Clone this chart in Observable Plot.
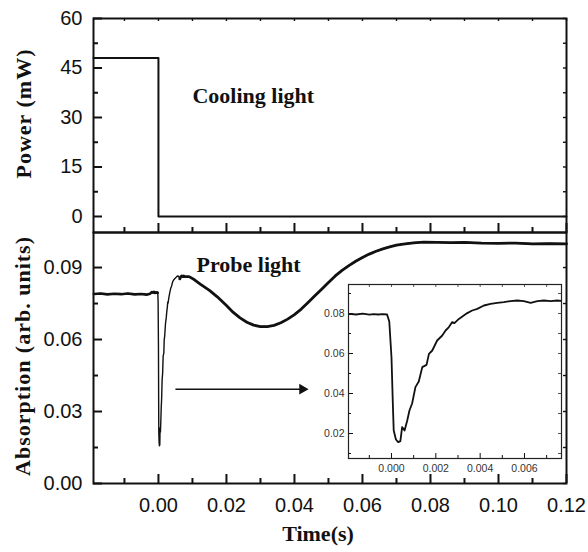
<!DOCTYPE html>
<html><head><meta charset="utf-8">
<script src="https://cdn.jsdelivr.net/npm/d3@7"></script>
<script src="https://cdn.jsdelivr.net/npm/@observablehq/plot@0.6"></script>
<style>
body{margin:0;background:#fff;}
#wrap{position:relative;width:588px;height:552px;background:#fff;overflow:hidden;}
#wrap svg{position:absolute;}
</style></head><body><div id="wrap"></div>
<script>
// ---- data ----
const powerTime = [-0.0191, 0, 0, 0.12];
const powerValue = [48, 48, 0, 0];

const absTime = [
 -0.0190,-0.0170,-0.0150,-0.0130,-0.0110,-0.0090,-0.0070,-0.0050,-0.0035,-0.0025,
 -0.0019,-0.0016,-0.0013,-0.0010,-0.0008,-0.0006,-0.0004,-0.0002,-0.0001,0.0000,
 0.00006,0.0001,0.0002,0.0003,0.0004,0.00048,0.00059,0.00071,0.00081,0.00093,
 0.00108,0.00123,0.00139,0.00158,0.00169,0.00184,0.00206,0.00229,0.00244,0.00259,
 0.00274,0.00284,0.00304,0.00326,0.00342,0.00364,0.00387,0.00417,0.00447,0.00477,
 0.00507,0.00537,0.00568,0.00597,0.00628,0.00658,0.00688,0.00718,0.00748,0.0077,
 0.0090,0.0105,0.0124,0.0150,0.0173,0.0200,0.0220,0.0240,0.0260,0.0280,
 0.0300,0.0320,0.0340,0.0360,0.0380,0.0400,0.0420,0.0440,0.0460,0.0480,
 0.0500,0.0520,0.0540,0.0560,0.0580,0.0600,0.0620,0.0640,0.0660,0.0680,
 0.0700,0.0720,0.0750,0.0780,0.0820,0.0860,0.0900,0.0950,0.1000,0.1050,
 0.1100,0.1150,0.1200];
const absValue = [
 0.0790,0.0792,0.0788,0.0791,0.0789,0.0792,0.0788,0.0790,0.0787,0.0791,
 0.0798,0.0795,0.0799,0.0794,0.0797,0.0795,0.0797,0.0795,0.0760,0.0580,
 0.0350,0.0215,0.0170,0.0157,0.0162,0.0232,0.0215,0.0265,0.0315,0.0350,
 0.0432,0.0460,0.0532,0.0543,0.0598,0.0615,0.0665,0.0690,0.0715,0.0732,
 0.0757,0.0752,0.0773,0.0790,0.0802,0.0815,0.0823,0.0840,0.0848,0.0853,
 0.0857,0.0862,0.0865,0.0862,0.0853,0.0862,0.0865,0.0862,0.0865,0.0862,
 0.0862,0.0850,0.0830,0.0805,0.0778,0.0742,0.0713,0.0690,0.0672,0.0660,
 0.0654,0.0654,0.0659,0.0670,0.0685,0.0704,0.0727,0.0754,0.0782,0.0810,
 0.0838,0.0865,0.0888,0.0908,0.0926,0.0942,0.0956,0.0968,0.0978,0.0986,
 0.0993,0.0998,0.1003,0.1006,0.1005,0.1004,0.1005,0.1002,0.1001,0.1002,
 0.0999,0.1000,0.0999];

const arrowStart = [0.005, 0.0393];
const arrowEnd = [0.0432, 0.0393];

const xMajor = [0, 0.02, 0.04, 0.06, 0.08, 0.10, 0.12];
const xMinor = [-0.01, 0.01, 0.03, 0.05, 0.07, 0.09, 0.11];
const powerMajor = [0, 15, 30, 45, 60];
const powerMinor = [7.5, 22.5, 37.5, 52.5];
const absMajor = [0, 0.03, 0.06, 0.09];
const absMinor = [0.015, 0.045, 0.075];
const insetXMajor = [0, 0.002, 0.004, 0.006];
const insetXMinor = [-0.001, 0.001, 0.003, 0.005, 0.007];
const insetYMajor = [0.02, 0.04, 0.06, 0.08];
const insetYMinor = [0.01, 0.03, 0.05, 0.07, 0.09];

// ---- helpers ----
const INK = "#111";
const powerData = powerTime.map((t, i) => ({t, v: powerValue[i]}));
const absData = absTime.map((t, i) => ({t, v: absValue[i]}));

function ticks({xMaj, xMin, yMaj, yMin, fw, fh, majL, minL, mirL, top, sw}) {
  const m = [];
  const o = {stroke: INK, strokeWidth: sw};
  m.push(Plot.ruleX(xMaj, {...o, insetTop: fh - majL}));
  m.push(Plot.ruleX(xMin, {...o, insetTop: fh - minL}));
  if (top) m.push(Plot.ruleX(xMaj.concat(xMin), {...o, strokeWidth: sw * 0.7, insetBottom: fh - mirL}));
  m.push(Plot.ruleY(yMaj, {...o, insetRight: fw - majL}));
  m.push(Plot.ruleY(yMin, {...o, insetRight: fw - minL}));
  m.push(Plot.ruleY(yMaj.concat(yMin), {...o, strokeWidth: sw * 0.7, insetLeft: fw - mirL}));
  return m;
}

const W = 588, ML = 93, MR = 22;
const FW = W - ML - MR;
const serif = {fontFamily: "Liberation Serif, Times New Roman, serif", fontWeight: "bold", fontSize: 22, fill: INK};
const baseStyle = {fontFamily: "Liberation Sans, Arial, sans-serif", fontSize: "20px", color: INK, background: "transparent", overflow: "visible"};
const tickFont = {fontSize: 20, fontFamily: "Liberation Sans, Arial, sans-serif"};

// ---- top panel ----
const topPlot = Plot.plot({
  width: W, height: 232, marginTop: 18, marginBottom: 0, marginLeft: ML, marginRight: MR,
  style: baseStyle,
  x: {domain: [-0.0191, 0.12]},
  y: {domain: [-4.85, 60]},
  marks: [
    Plot.line(powerData, {x: "t", y: "v", stroke: INK, strokeWidth: 2}),
    ...ticks({xMaj: xMajor, xMin: xMinor, yMaj: powerMajor, yMin: powerMinor, fw: FW, fh: 214, majL: 9, minL: 5, mirL: 3, top: true, sw: 2}),
    Plot.axisX([], {label: null}),
    Plot.axisY(powerMajor, {tickSize: 0, tickPadding: 11, label: null, tickFormat: d => String(d), ...tickFont}),
    Plot.text(["Cooling light"], {x: 0.010, y: 36.4, text: d => d, textAnchor: "start", lineAnchor: "middle", ...serif}),
    Plot.text(["Power (mW)"], {frameAnchor: "left", dx: -70, dy: -12, rotate: -90, textAnchor: "middle", lineAnchor: "middle", text: d => d, ...serif}),
    Plot.frame({stroke: INK, strokeWidth: 2})
  ]
});
topPlot.style.left = "0px"; topPlot.style.top = "0px";

// ---- bottom panel ----
const botPlot = Plot.plot({
  width: W, height: 320, marginTop: 0, marginBottom: 69, marginLeft: ML, marginRight: MR,
  style: baseStyle,
  x: {domain: [-0.0191, 0.12]},
  y: {domain: [0, 0.1046]},
  marks: [
    Plot.line(absData, {x: "t", y: "v", stroke: INK, strokeWidth: 1.4}),
    Plot.line(absData.filter(d => d.t < -0.0001), {x: "t", y: "v", stroke: INK, strokeWidth: 2.6}),
    Plot.line(absData.filter(d => d.t > 0.006), {x: "t", y: "v", stroke: INK, strokeWidth: 2.8}),
    Plot.link([0], {x1: arrowStart[0], y1: arrowStart[1], x2: arrowEnd[0], y2: arrowEnd[1], stroke: INK, strokeWidth: 1.6}),
    Plot.dot([0], {x: arrowEnd[0], y: arrowEnd[1], symbol: "triangle", rotate: 90, r: 4, fill: INK, stroke: "none", dx: -3}),
    ...ticks({xMaj: xMajor, xMin: xMinor, yMaj: absMajor, yMin: absMinor, fw: FW, fh: 251, majL: 9, minL: 5, mirL: 3, top: false, sw: 2}),
    Plot.axisX(xMajor, {tickSize: 0, tickPadding: 14, label: null, tickFormat: d3.format(".2f"), ...tickFont}),
    Plot.axisY(absMajor, {tickSize: 0, tickPadding: 11, label: null, tickFormat: d3.format(".2f"), ...tickFont}),
    Plot.text(["Probe light"], {x: 0.0112, y: 0.0912, text: d => d, textAnchor: "start", lineAnchor: "middle", ...serif}),
    Plot.text(["Absorption (arb. units)"], {frameAnchor: "left", dx: -71, dy: -2, rotate: -90, textAnchor: "middle", lineAnchor: "middle", text: d => d, ...serif}),
    Plot.text(["Time(s)"], {frameAnchor: "bottom", dx: -12, dy: 50, textAnchor: "middle", lineAnchor: "middle", text: d => d, ...serif}),
    Plot.frame({stroke: INK, strokeWidth: 2})
  ]
});
botPlot.style.left = "0px"; botPlot.style.top = "232px";

// ---- inset ----
const IML = 32, IMT = 4, IMR = 4, IMB = 22;
const IFW = 213, IFH = 174;
const insetPlot = Plot.plot({
  width: IFW + IML + IMR, height: IFH + IMT + IMB,
  marginLeft: IML, marginTop: IMT, marginRight: IMR, marginBottom: IMB,
  style: {...baseStyle, fontSize: "10.5px", color: "#333"},
  x: {domain: [-0.00194, 0.00767]},
  y: {domain: [0.0075, 0.0945]},
  marks: [
    Plot.frame({fill: "white", stroke: "none"}),
    Plot.line(absData, {x: "t", y: "v", stroke: INK, strokeWidth: 1.8, clip: true}),
    ...ticks({xMaj: insetXMajor, xMin: insetXMinor, yMaj: insetYMajor, yMin: insetYMinor, fw: IFW, fh: IFH, majL: 5, minL: 3, mirL: 3, top: true, sw: 1}),
    Plot.axisX(insetXMajor, {tickSize: 0, tickPadding: 6, label: null, tickFormat: d3.format(".3f"), fontSize: 10.5}),
    Plot.axisY(insetYMajor, {tickSize: 0, tickPadding: 4, label: null, tickFormat: d3.format(".2f"), fontSize: 10.5}),
    Plot.frame({stroke: "#222", strokeWidth: 1.2})
  ]
});
insetPlot.style.left = (348 - IML) + "px"; insetPlot.style.top = (284 - IMT) + "px";

const wrap = document.getElementById("wrap");
wrap.append(topPlot, botPlot, insetPlot);

// slight letter spacing on the rotated axis titles, as in the reference
d3.selectAll("#wrap text").filter(function() {
  const t = this.textContent;
  return t === "Power (mW)" || t === "Absorption (arb. units)";
}).style("letter-spacing", "1px");
</script></body></html>
